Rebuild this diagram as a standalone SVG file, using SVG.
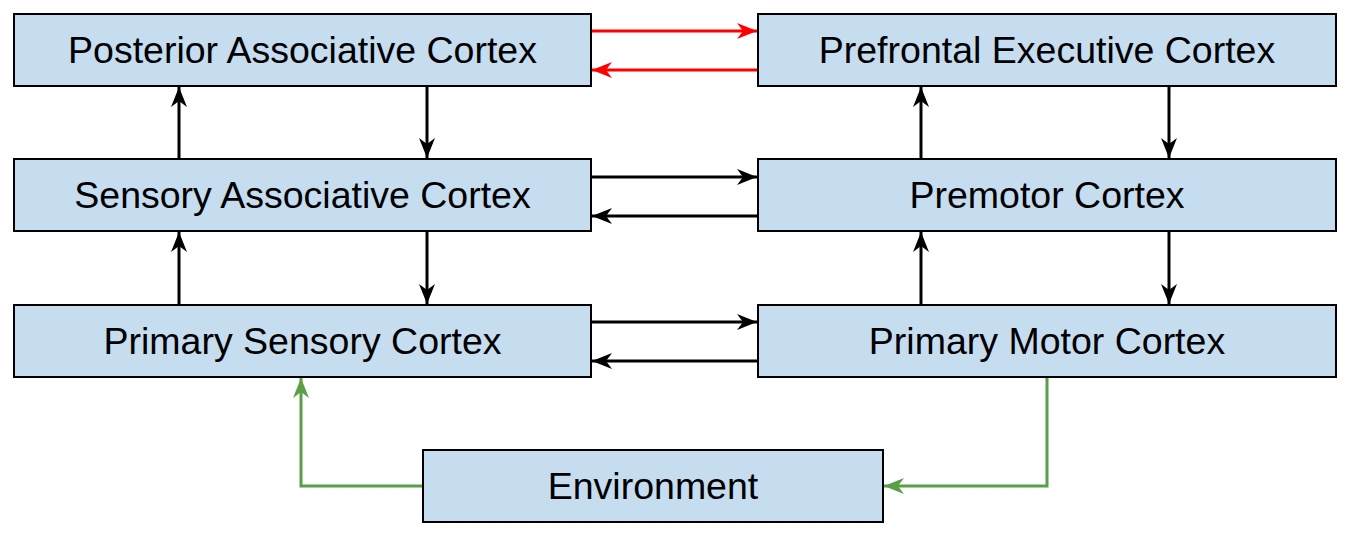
<svg xmlns="http://www.w3.org/2000/svg" width="1348" height="534" viewBox="0 0 1348 534">
<style>
.box{fill:#c6dcef;stroke:#000;stroke-width:2}
.lbl{font-family:"Liberation Sans",Arial,sans-serif;font-size:37.5px;fill:#000;text-anchor:middle;dominant-baseline:central}
.k{stroke:#000;stroke-width:3;fill:none}
.r{stroke:#ff0000;stroke-width:3;fill:none}
.g{stroke:#5a9e48;stroke-width:3;fill:none}
</style>
<defs>
<marker id="ak" viewBox="0 0 20 16" refX="20" refY="8" markerWidth="20" markerHeight="16" markerUnits="userSpaceOnUse" orient="auto"><path d="M0,0 L20,8 L0,16 L6,8 Z" fill="#000"/></marker>
<marker id="ar" viewBox="0 0 20 16" refX="20" refY="8" markerWidth="20" markerHeight="16" markerUnits="userSpaceOnUse" orient="auto"><path d="M0,0 L20,8 L0,16 L6,8 Z" fill="#ff0000"/></marker>
<marker id="ag" viewBox="0 0 20 16" refX="20" refY="8" markerWidth="20" markerHeight="16" markerUnits="userSpaceOnUse" orient="auto"><path d="M0,0 L20,8 L0,16 L6,8 Z" fill="#5a9e48"/></marker>
</defs>
<g id="connectors">
<line class="r" x1="591" y1="31" x2="757" y2="31" marker-end="url(#ar)"/>
<line class="r" x1="758" y1="70" x2="592" y2="70" marker-end="url(#ar)"/>
<line class="k" x1="179" y1="159" x2="179" y2="87" marker-end="url(#ak)"/>
<line class="k" x1="427" y1="86" x2="427" y2="158" marker-end="url(#ak)"/>
<line class="k" x1="921" y1="159" x2="921" y2="87" marker-end="url(#ak)"/>
<line class="k" x1="1169" y1="86" x2="1169" y2="158" marker-end="url(#ak)"/>
<line class="k" x1="591" y1="177" x2="757" y2="177" marker-end="url(#ak)"/>
<line class="k" x1="758" y1="216" x2="592" y2="216" marker-end="url(#ak)"/>
<line class="k" x1="179" y1="305" x2="179" y2="232" marker-end="url(#ak)"/>
<line class="k" x1="427" y1="231" x2="427" y2="304" marker-end="url(#ak)"/>
<line class="k" x1="921" y1="305" x2="921" y2="232" marker-end="url(#ak)"/>
<line class="k" x1="1169" y1="231" x2="1169" y2="304" marker-end="url(#ak)"/>
<line class="k" x1="591" y1="322" x2="757" y2="322" marker-end="url(#ak)"/>
<line class="k" x1="758" y1="361" x2="592" y2="361" marker-end="url(#ak)"/>
<polyline class="g" points="423,486 301,486 301,378" marker-end="url(#ag)"/>
<polyline class="g" points="1047,377 1047,486 884,486" marker-end="url(#ag)"/>
</g>
<g id="posterior"><rect class="box" x="14" y="14" width="577" height="72"/><text class="lbl" x="302.5" y="50">Posterior Associative Cortex</text></g>
<g id="prefrontal"><rect class="box" x="758" y="14" width="578" height="72"/><text class="lbl" x="1047" y="50">Prefrontal Executive Cortex</text></g>
<g id="sensory-assoc"><rect class="box" x="14" y="159" width="577" height="72"/><text class="lbl" x="302.5" y="195">Sensory Associative Cortex</text></g>
<g id="premotor"><rect class="box" x="758" y="159" width="578" height="72"/><text class="lbl" x="1047" y="195">Premotor Cortex</text></g>
<g id="primary-sensory"><rect class="box" x="14" y="305" width="577" height="72"/><text class="lbl" x="302.5" y="341">Primary Sensory Cortex</text></g>
<g id="primary-motor"><rect class="box" x="758" y="305" width="578" height="72"/><text class="lbl" x="1047" y="341">Primary Motor Cortex</text></g>
<g id="environment"><rect class="box" x="423" y="450" width="460" height="72"/><text class="lbl" x="653" y="486">Environment</text></g>
</svg>
